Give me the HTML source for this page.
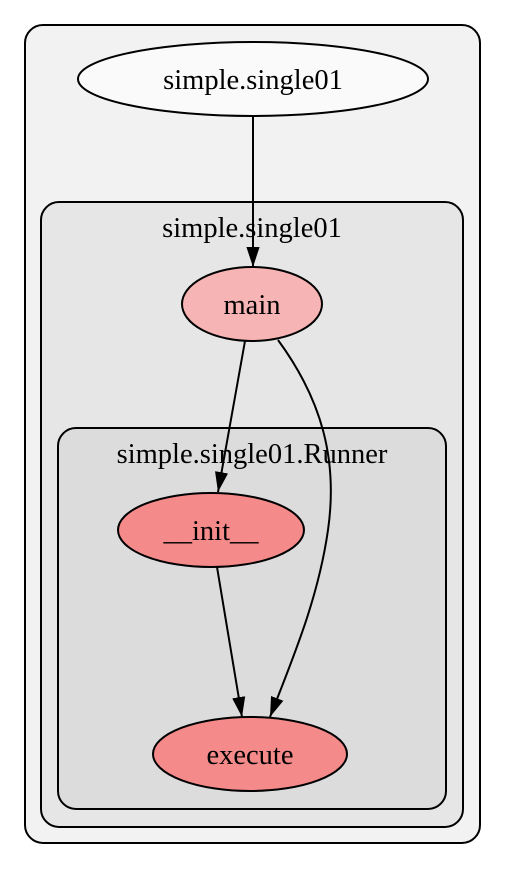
<!DOCTYPE html>
<html><head><style>html,body{margin:0;padding:0;background:#fff}</style></head>
<body>
<svg width="505" height="868" viewBox="0 0 505 868" xmlns="http://www.w3.org/2000/svg" font-family="Liberation Serif, serif" font-size="28.5">
<defs>
<marker id="b" viewBox="0 0 10 10" markerWidth="20" markerHeight="20" refX="10" refY="5" orient="auto" markerUnits="userSpaceOnUse"><path d="M0,1.7 L10,5 L0,8.3 z" fill="#000"/></marker></defs>
<rect x="25" y="25" width="455" height="818" rx="18" fill="#f2f2f2" stroke="#000" stroke-width="2"/>
<rect x="41" y="202" width="422" height="625" rx="18" fill="#e6e6e6" stroke="#000" stroke-width="2"/>
<text x="252" y="237" text-anchor="middle">simple.single01</text>
<rect x="58" y="428" width="388" height="381" rx="18" fill="#dcdcdc" stroke="#000" stroke-width="2"/>
<text x="252" y="463" text-anchor="middle">simple.single01.Runner</text>
<ellipse cx="253" cy="79" rx="175" ry="37" fill="#fafafa" stroke="#000" stroke-width="2"/>
<text x="253" y="89" text-anchor="middle">simple.single01</text>
<ellipse cx="252" cy="304" rx="70" ry="37" fill="#f6b4b4" stroke="#000" stroke-width="2"/>
<text x="252" y="314" text-anchor="middle">main</text>
<ellipse cx="211" cy="530" rx="93" ry="37" fill="#f48a8a" stroke="#000" stroke-width="2"/>
<text x="211" y="540" text-anchor="middle">__init__</text>
<ellipse cx="250" cy="754" rx="97" ry="37" fill="#f48a8a" stroke="#000" stroke-width="2"/>
<text x="250" y="764" text-anchor="middle">execute</text>
<g stroke="#000" stroke-width="2" fill="none">
<path d="M253,116 L253,267" marker-end="url(#b)"/>
<path d="M245,341 L218,492" marker-end="url(#b)"/>
<path d="M217,567 L242,717" marker-end="url(#b)"/>
<path d="M278,340 C322,400 338,460 328,530 C318,600 292,660 270,717" marker-end="url(#b)"/>
</g>
</svg>
</body></html>
